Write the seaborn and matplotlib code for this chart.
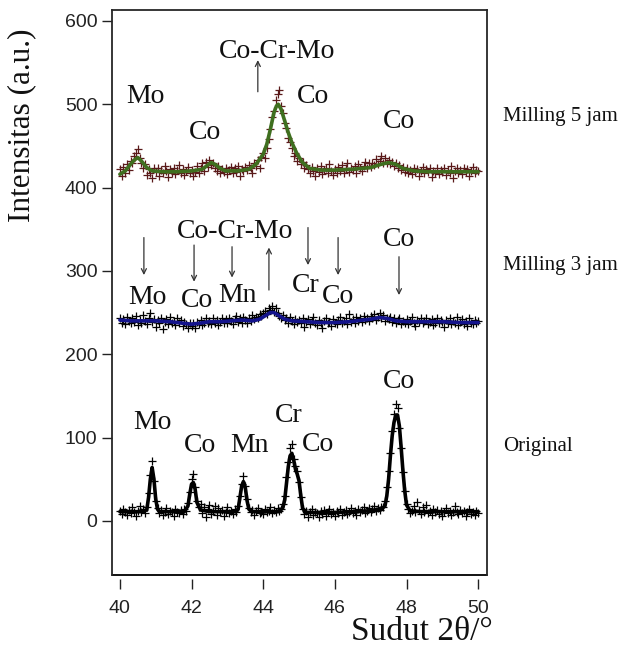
import numpy as np
import pandas as pd
import matplotlib
matplotlib.use('Agg')
import matplotlib.pyplot as plt
import seaborn as sns

# 2-theta grid of the measured points (0.05 deg step)
two_theta = np.round(np.arange(40.0, 50.0001, 0.05), 2)

orig_pts = [12, 8, 14, 10, 7, 13, 9, 16, 11, 6,
            12, 18, 10, 14, 9, 17, 33, 55, 72, 48,
            24, 15, 9, 13, 7, 11, 15, 8, 12, 10,
            6, 14, 11, 9, 13, 8, 14, 12, 21, 35,
            50, 56, 40, 24, 16, 20, 9, 17, 5, 14,
            19, 8, 12, 18, 7, 15, 10, 13, 6, 11,
            16, 9, 12, 8, 14, 11, 18, 30, 44, 54,
            42, 26, 15, 10, 13, 7, 12, 15, 9, 11,
            8, 14, 10, 12, 16, 9, 13, 11, 15, 12,
            14, 20, 30, 52, 70, 88, 92, 74, 66, 60,
            47, 28, 14, 8, 12, 4, 10, 14, 7, 11,
            9, 5, 12, 8, 13, 6, 10, 14, 8, 11,
            6, 12, 9, 14, 7, 10, 13, 8, 11, 15,
            9, 12, 7, 14, 10, 13, 16, 9, 12, 15,
            11, 14, 18, 12, 15, 13, 17, 16, 24, 40,
            60, 82, 108, 128, 140, 135, 112, 88, 58, 36,
            20, 14, 9, 12, 18, 10, 22, 13, 8, 16,
            11, 19, 9, 12, 7, 14, 10, 13, 8, 12,
            6, 11, 15, 9, 12, 7, 10, 18, 11, 8,
            13, 9, 12, 6, 10, 14, 8, 11, 7, 12,
            9]
mill3_pts = [244, 238, 242, 236, 245, 240, 237, 243, 239, 246,
             235, 241, 238, 247, 240, 236, 243, 250, 239, 242,
             233, 241, 237, 244, 230, 239, 242, 236, 245, 238,
             240, 235, 243, 237, 241, 234, 239, 236, 231, 238,
             234, 237, 232, 239, 236, 241, 235, 238, 243, 237,
             240, 236, 244, 238, 241, 235, 239, 243, 237, 242,
             238, 244, 240, 236, 242, 246, 239, 243, 237, 245,
             241, 238, 244, 240, 247, 242, 245, 243, 248, 246,
             250, 252, 248, 256, 253, 258, 251, 255, 249, 246,
             244, 247, 241, 243, 238, 245, 240, 236, 242, 239,
             241, 237, 244, 233, 239, 242, 236, 240, 245, 238,
             235, 241, 238, 232, 240, 243, 237, 239, 234, 242,
             238, 236, 241, 245, 237, 240, 243, 236, 248, 239,
             242, 238, 245, 240, 243, 239, 246, 241, 244, 240,
             246, 243, 248, 241, 245, 250, 243, 247, 240, 244,
             242, 245, 239, 243, 237, 241, 244, 236, 240, 238,
             242, 236, 240, 245, 238, 234, 241, 239, 243, 237,
             240, 244, 236, 239, 242, 235, 238, 243, 237, 241,
             239, 233, 241, 237, 244, 236, 240, 238, 245, 235,
             239, 242, 236, 240, 234, 243, 238, 236, 241, 237,
             240]
mill5_pts = [422, 414, 425, 418, 428, 421, 432, 429, 438, 442,
             446, 436, 430, 424, 428, 415, 422, 418, 412, 424,
             419, 423, 414, 421, 417, 426, 420, 413, 422, 418,
             424, 416, 421, 427, 418, 422, 415, 420, 425, 417,
             421, 414, 419, 426, 418, 423, 429, 420, 431, 425,
             433, 427, 430, 424, 420, 426, 417, 422, 419, 424,
             416, 421, 425, 418, 423, 419, 426, 414, 422, 420,
             425, 421, 427, 423, 418, 429, 426, 433, 424, 437,
             442, 436, 448, 458, 470, 485, 492, 505, 512, 517,
             498, 490, 478, 472, 460, 455, 447, 438, 441, 432,
             436, 428, 431, 424, 427, 422, 418, 425, 420, 414,
             423, 419, 426, 416, 421, 424, 418, 428, 420, 415,
             422, 418, 425, 420, 427, 417, 423, 430, 419, 424,
             421, 426, 418, 428, 423, 420, 426, 431, 424, 429,
             425, 430, 427, 434, 428, 432, 438, 430, 435, 429,
             433, 428, 431, 426, 430, 424, 427, 421, 425, 419,
             423, 418, 421, 416, 424, 419, 422, 414, 420, 425,
             417, 422, 419, 424, 413, 420, 418, 423, 416, 421,
             419, 424, 415, 421, 418, 426, 412, 420, 423, 417,
             421, 416, 424, 419, 422, 414, 420, 425, 418, 421,
             420]

# fitted curves (knots)
orig_fit_x = [40.0, 40.3, 40.6, 40.75, 40.8, 40.85, 40.9, 40.95, 41.0, 41.05, 41.1,
              41.4, 41.8, 41.9, 41.95, 42.0, 42.05, 42.1, 42.15, 42.25, 42.5, 42.9,
              43.25, 43.3, 43.35, 43.4, 43.45, 43.5, 43.55, 43.6, 43.7, 44.0, 44.45,
              44.55, 44.6, 44.65, 44.7, 44.75, 44.8, 44.85, 44.9, 44.95, 45.0, 45.05,
              45.1, 45.2, 45.6, 46.0, 46.5, 47.0, 47.3, 47.4, 47.45, 47.5, 47.55, 47.6,
              47.65, 47.7, 47.75, 47.8, 47.85, 47.9, 47.95, 48.0, 48.1, 48.4, 48.8,
              49.2, 49.6, 50.0]
orig_fit_y = [11, 11, 11, 13, 28, 50, 64, 50, 26, 14, 11,
              11, 11, 18, 32, 44, 46, 38, 22, 13, 11, 11,
              11, 14, 28, 42, 47, 40, 24, 14, 11, 11, 11,
              16, 25, 45, 65, 78, 81, 73, 62, 56, 48, 30,
              15, 10, 10, 10, 11, 12, 14, 18, 30, 50, 78, 102,
              118, 127, 127, 114, 88, 60, 36, 19, 12, 11, 11,
              11, 11, 11]
mill3_fit_x = [40.0, 40.3, 40.6, 41.0, 41.4, 41.8, 42.0, 42.2, 42.5, 42.8, 43.1,
               43.4, 43.7, 43.9, 44.05, 44.2, 44.3, 44.45, 44.6, 44.8, 45.2, 45.6,
               46.0, 46.4, 46.8, 47.0, 47.25, 47.45, 47.7, 48.0, 48.5, 49.0, 49.5, 50.0]
mill3_fit_y = [241, 240, 240, 240, 239, 237, 236, 237, 239, 239, 240,
               241, 240, 242, 246, 250, 250, 246, 242, 240, 239, 238,
               238, 239, 241, 242, 244, 243, 240, 239, 239, 239, 238, 238]
mill5_fit_x = [40.0, 40.15, 40.3, 40.4, 40.5, 40.6, 40.75, 40.9, 41.2, 41.6, 42.0,
               42.3, 42.45, 42.55, 42.65, 42.8, 42.95, 43.3, 43.6, 43.8, 44.0, 44.1,
               44.2, 44.3, 44.37, 44.42, 44.5, 44.6, 44.7, 44.8, 44.95, 45.1, 45.3,
               45.6, 46.0, 46.5, 47.0, 47.3, 47.5, 47.7, 47.9, 48.2, 48.6, 49.0,
               49.5, 50.0]
mill5_fit_y = [416, 420, 428, 433, 436, 432, 424, 420, 419, 419, 420,
               422, 427, 430, 428, 423, 420, 420, 422, 428, 440, 452,
               470, 490, 498, 500, 494, 480, 466, 454, 440, 430, 423,
               421, 421, 422, 424, 428, 430, 428, 423, 420, 419, 419,
               419, 419]

# peak labels: (text, x, y)
peak_text = ['Mo', 'Co', 'Co-Cr-Mo', 'Co', 'Co',
             'Co-Cr-Mo', 'Mo', 'Co', 'Mn', 'Cr', 'Co', 'Co',
             'Mo', 'Co', 'Mn', 'Cr', 'Co', 'Co']
peak_x = [40.7, 42.37, 44.38, 45.39, 47.79,
          43.21, 40.78, 42.15, 43.27, 45.2, 46.09, 47.79,
          40.92, 42.23, 43.63, 44.72, 45.53, 47.79]
peak_y = [509, 466, 563, 509, 479,
          347, 268, 265, 270, 283, 269, 338,
          118, 90, 90, 127, 92, 167]

# arrows: x, tail y, head y
arrow_x = [43.85, 40.67, 42.07, 43.13, 44.16, 45.25, 46.09, 47.79]
arrow_tail = [515, 340, 331, 329, 277, 352, 340, 317]
arrow_head = [553, 295, 287, 292, 328, 307, 295, 271]

# sample names to the right of the frame
sample_names = ['Milling 5 jam', 'Milling 3 jam', 'Original']
sample_y = [485, 306, 89]

sns.set_style('ticks')
plt.rcParams['font.family'] = ['Liberation Serif', 'DejaVu Serif']

fig = plt.figure(figsize=(6.31, 6.53), dpi=100)
ax = fig.add_axes([0.1775, 0.1195, 0.5945, 0.865])

pts = pd.DataFrame({'theta': two_theta, 'orig': orig_pts,
                    'mill3': mill3_pts, 'mill5': mill5_pts})

for col, mcol in [('orig', 'black'), ('mill3', 'black'), ('mill5', '#5a1a1a')]:
    sns.scatterplot(data=pts, x='theta', y=col, marker='+', s=28,
                    color=mcol, linewidth=0.9, ax=ax, zorder=2)

sns.lineplot(x=orig_fit_x, y=orig_fit_y, color='black', lw=2.6,
             estimator=None, sort=False, ax=ax, zorder=3)
sns.lineplot(x=mill3_fit_x, y=mill3_fit_y, color='#14148c', lw=2.6,
             estimator=None, sort=False, ax=ax, zorder=3)
sns.lineplot(x=mill5_fit_x, y=mill5_fit_y, color='#3f6f1f', lw=2.6,
             estimator=None, sort=False, ax=ax, zorder=3)

for t, x, y in zip(peak_text, peak_x, peak_y):
    ax.text(x, y, t, fontsize=20, ha='center', va='center', color='#111111')

for x, y0, y1 in zip(arrow_x, arrow_tail, arrow_head):
    ax.annotate('', xy=(x, y1), xytext=(x, y0),
                arrowprops=dict(arrowstyle='->', color='#333333', lw=0.9,
                                mutation_scale=9, shrinkA=0, shrinkB=0))

for t, y in zip(sample_names, sample_y):
    ax.text(50.70, y, t, fontsize=15, ha='left', va='center',
            color='#111111', clip_on=False)

ax.set_xlim(39.78, 50.25)
ax.set_ylim(-65, 613)
ax.set_xticks([40, 42, 44, 46, 48, 50])
ax.set_yticks([0, 100, 200, 300, 400, 500, 600])

# frame with the x ticks hanging a little below it
for s in ['top', 'right', 'left', 'bottom']:
    ax.spines[s].set_visible(True)
    ax.spines[s].set_linewidth(1.3)
ax.spines['bottom'].set_position(('outward', 3))
ax.spines['bottom'].set_color('none')
ax.plot([0, 1], [0, 0], transform=ax.transAxes, color='black', lw=1.3,
        clip_on=False)

ax.tick_params(axis='both', direction='out', length=7, width=1, color='#222222',
               labelsize=14, labelcolor='#222222')
ax.tick_params(axis='x', pad=8)
for lab in ax.get_xticklabels() + ax.get_yticklabels():
    lab.set_fontfamily('Liberation Sans')

ax.set_xlabel('')
ax.set_ylabel('')
fig.text(493 / 631, 1 - 632 / 653, 'Sudut 2\u03b8/\u00b0', fontsize=24,
         ha='right', va='center', color='#111111')
fig.text(22 / 631, 1 - 125 / 653, 'Intensitas (a.u.)', fontsize=22.5,
         rotation=90, ha='center', va='center', color='#111111')

fig.savefig('out.png', dpi=100)
